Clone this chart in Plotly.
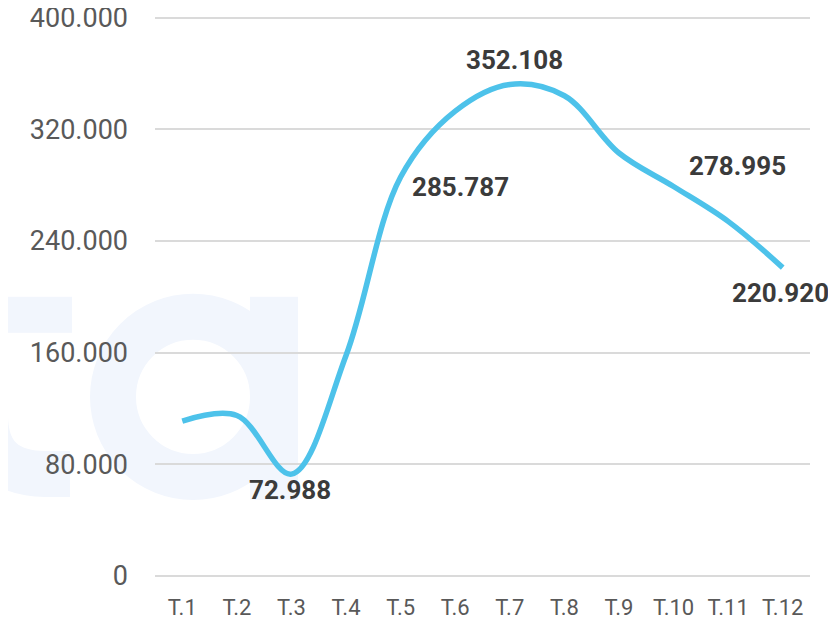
import base64
import plotly.graph_objects as go

# ---- data ----
months = ["T.1", "T.2", "T.3", "T.4", "T.5", "T.6", "T.7", "T.8", "T.9", "T.10", "T.11", "T.12"]
values = [111000, 115000, 72988, 158000, 285787, 333000, 352108, 344000, 303000, 278995, 254000, 220920]

y_tick_vals = [0, 80000, 160000, 240000, 320000, 400000]
y_tick_text = ["0", "80.000", "160.000", "240.000", "320.000", "400.000"]
y_max = 404000

# labelled points: (month, label text, x shift px, y shift px)
label_months = ["T.3", "T.5", "T.7", "T.10", "T.12"]
label_texts = ["72.988", "285.787", "352.108", "278.995", "220.920"]
label_dx = [-1, 60, 5, 64, -2]
label_dy = [-16, -10, 24, 21, -25]

LINE_COLOR = "#4dc2ea"
GRID_COLOR = "#dadada"
TICK_COLOR = "#595959"
LABEL_COLOR = "#3b3b3b"
MARK_COLOR = "#f2f6fd"

fig = go.Figure()
fig.add_trace(go.Scatter(
    x=months, y=values, mode="lines",
    line=dict(color=LINE_COLOR, width=5.5, shape="spline", smoothing=1.0),
    hoverinfo="skip",
))

for m, t, dx, dy in zip(label_months, label_texts, label_dx, label_dy):
    fig.add_annotation(
        x=m, y=values[months.index(m)], xref="x", yref="y",
        text=f"<b>{t}</b>", showarrow=False,
        xanchor="center", yanchor="middle", xshift=dx, yshift=dy,
        font=dict(family="Roboto", size=26, color=LABEL_COLOR),
    )

# page body has an 8px margin: figure is shifted by 8px, so sizes compensate
OFF = 8
W, H = 836 - OFF, 620 - OFF
PLOT_TOP_PAGE = 576 - 558 * y_max / 400000
L, R, T, B = 155 - OFF, 26, PLOT_TOP_PAGE - OFF, 44
pw, ph = W - L - R, H - T - B

# faint watermark ("ta" fragment) behind everything; box covers page x 0..320, y 200..520
svg = (
    '<svg xmlns="http://www.w3.org/2000/svg" width="320" height="320" viewBox="0 0 320 320">'
    f'<g fill="none" stroke="{MARK_COLOR}">'
    '<circle cx="193" cy="197" r="80" stroke-width="46"/>'
    '<path d="M -15 37 L -15 215 Q -15 274 45 274 L 70 274" stroke-width="46"/>'
    '</g>'
    f'<g fill="{MARK_COLOR}">'
    '<rect x="250" y="97" width="48" height="203"/>'
    '<rect x="-60" y="97" width="132" height="36"/>'
    '</g></svg>'
)
src = "data:image/svg+xml;base64," + base64.b64encode(svg.encode()).decode()
fig.add_layout_image(
    source=src, xref="paper", yref="paper",
    x=(0 - OFF - L) / pw, y=(H - B - (200 - OFF)) / ph, sizex=320 / pw, sizey=320 / ph,
    xanchor="left", yanchor="top", sizing="stretch", layer="below",
)

fig.update_layout(
    template="none",
    width=W, height=H,
    margin=dict(l=L, r=R, t=T, b=B, pad=0, autoexpand=False),
    paper_bgcolor="white", plot_bgcolor="rgba(0,0,0,0)",
    showlegend=False,
    font=dict(family="Roboto"),
)
fig.update_xaxes(
    type="category", range=[-0.5, 11.5], automargin=False,
    showgrid=False, zeroline=False, showline=False, ticks="",
    tickangle=0, ticklabelstandoff=16,
    tickfont=dict(family="Roboto", size=22, color=TICK_COLOR),
)
fig.update_yaxes(
    range=[0, y_max], tickvals=y_tick_vals, ticktext=y_tick_text, automargin=False,
    showgrid=True, gridcolor=GRID_COLOR, gridwidth=2,
    zeroline=True, zerolinecolor=GRID_COLOR, zerolinewidth=2,
    showline=False, ticks="", ticklabelstandoff=26, ticklabeloverflow="allow",
    tickfont=dict(family="Roboto", size=27, color=TICK_COLOR),
)

fig.write_html("out.html")
